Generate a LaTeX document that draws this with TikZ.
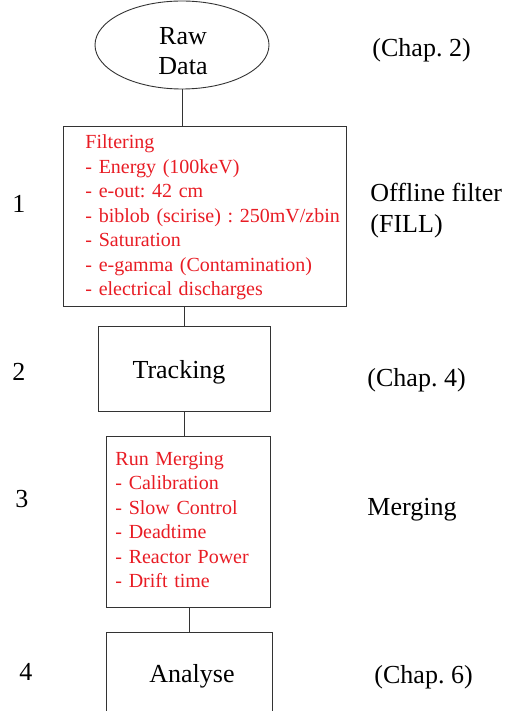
\documentclass[tikz,border=0pt]{standalone}
\usepackage{fontspec}
\setmainfont{Liberation Serif}
\usetikzlibrary{shapes.geometric}
\usetikzlibrary{positioning}
\definecolor{listred}{RGB}{232,28,36}
\frenchspacing

\begin{document}
\begin{tikzpicture}[
  x=1pt, y=-1pt,
  line width=0.9pt,
  every node/.style={inner sep=0pt},
  bigtext/.style={font=\fontsize{26}{30}\selectfont},
  redlist/.style={font=\fontsize{20}{24.5}\selectfont, text=listred, align=left, text width=265pt, anchor=base west},
  stagebox/.style={draw=black!80, rectangle},
  sidelabel/.style={bigtext, align=left, anchor=base west}
  ]
  \useasboundingbox (0,0) rectangle (510,711);
  \clip (0,0) rectangle (510,711);

  \coordinate (@raw) at (182,45);
  \coordinate (@filter) at (204.5,216);
  \coordinate (@track) at (184,368.5);
  \coordinate (@merge) at (188,521.5);
  \coordinate (@ana) at (189,673);

  % stages
  \node[draw=black!80, ellipse, minimum width=174pt, minimum height=88pt] (raw) at (@raw) {};
  \node[bigtext, align=center] (rawtxt) at (183,51) {Raw\\Data};
  \node[stagebox, minimum width=283pt, minimum height=180pt] (filter) at (@filter) {};
  \node[redlist] (filtertxt) at (85,149) {Filtering\\- Energy (100keV)\\- e-out: 42 cm\\- biblob (scirise) : 250mV/zbin\\- Saturation\\- e-gamma (Contamination)\\- electrical discharges};
  \node[stagebox, minimum width=172pt, minimum height=85pt] (track) at (@track) {};
  \node[bigtext, anchor=base] (tracktxt) at (179,378) {Tracking};
  \node[stagebox, minimum width=164pt, minimum height=171pt] (merge) at (@merge) {};
  \node[redlist] (mergetxt) at (115,465) {Run Merging\\- Calibration\\- Slow Control\\- Deadtime\\- Reactor Power\\- Drift time};
  \node[stagebox, minimum width=166pt, minimum height=82pt] (ana) at (@ana) {};
  \node[bigtext, anchor=base] (anatxt) at (192,682) {Analyse};

  \draw[black!80] (raw.south) -- (raw.south |- filter.north);
  \draw[black!80] (track.north) -- (track.north |- filter.south);
  \draw[black!80] (track.south) -- (track.south |- merge.north);
  \draw[black!80] (ana.north) -- (ana.north |- merge.south);

  % step numbers
  \node[sidelabel] (n1) at (12,212) {1};
  \node[sidelabel] (n2) at (12,380) {2};
  \node[sidelabel] (n3) at (15,507) {3};
  \node[sidelabel] (n4) at (19,680) {4};

  % notes on the right
  \node[sidelabel] (chap2) at (372,57) {(Chap. 2)};
  \node[sidelabel] (offline) at (370,233) {Offline filter\\[1pt](FILL)};
  \node[sidelabel] (chap4) at (367,386) {(Chap. 4)};
  \node[sidelabel] (merging) at (367,515) {Merging};
  \node[sidelabel] (chap6) at (374,683) {(Chap. 6)};
\end{tikzpicture}
\end{document}
